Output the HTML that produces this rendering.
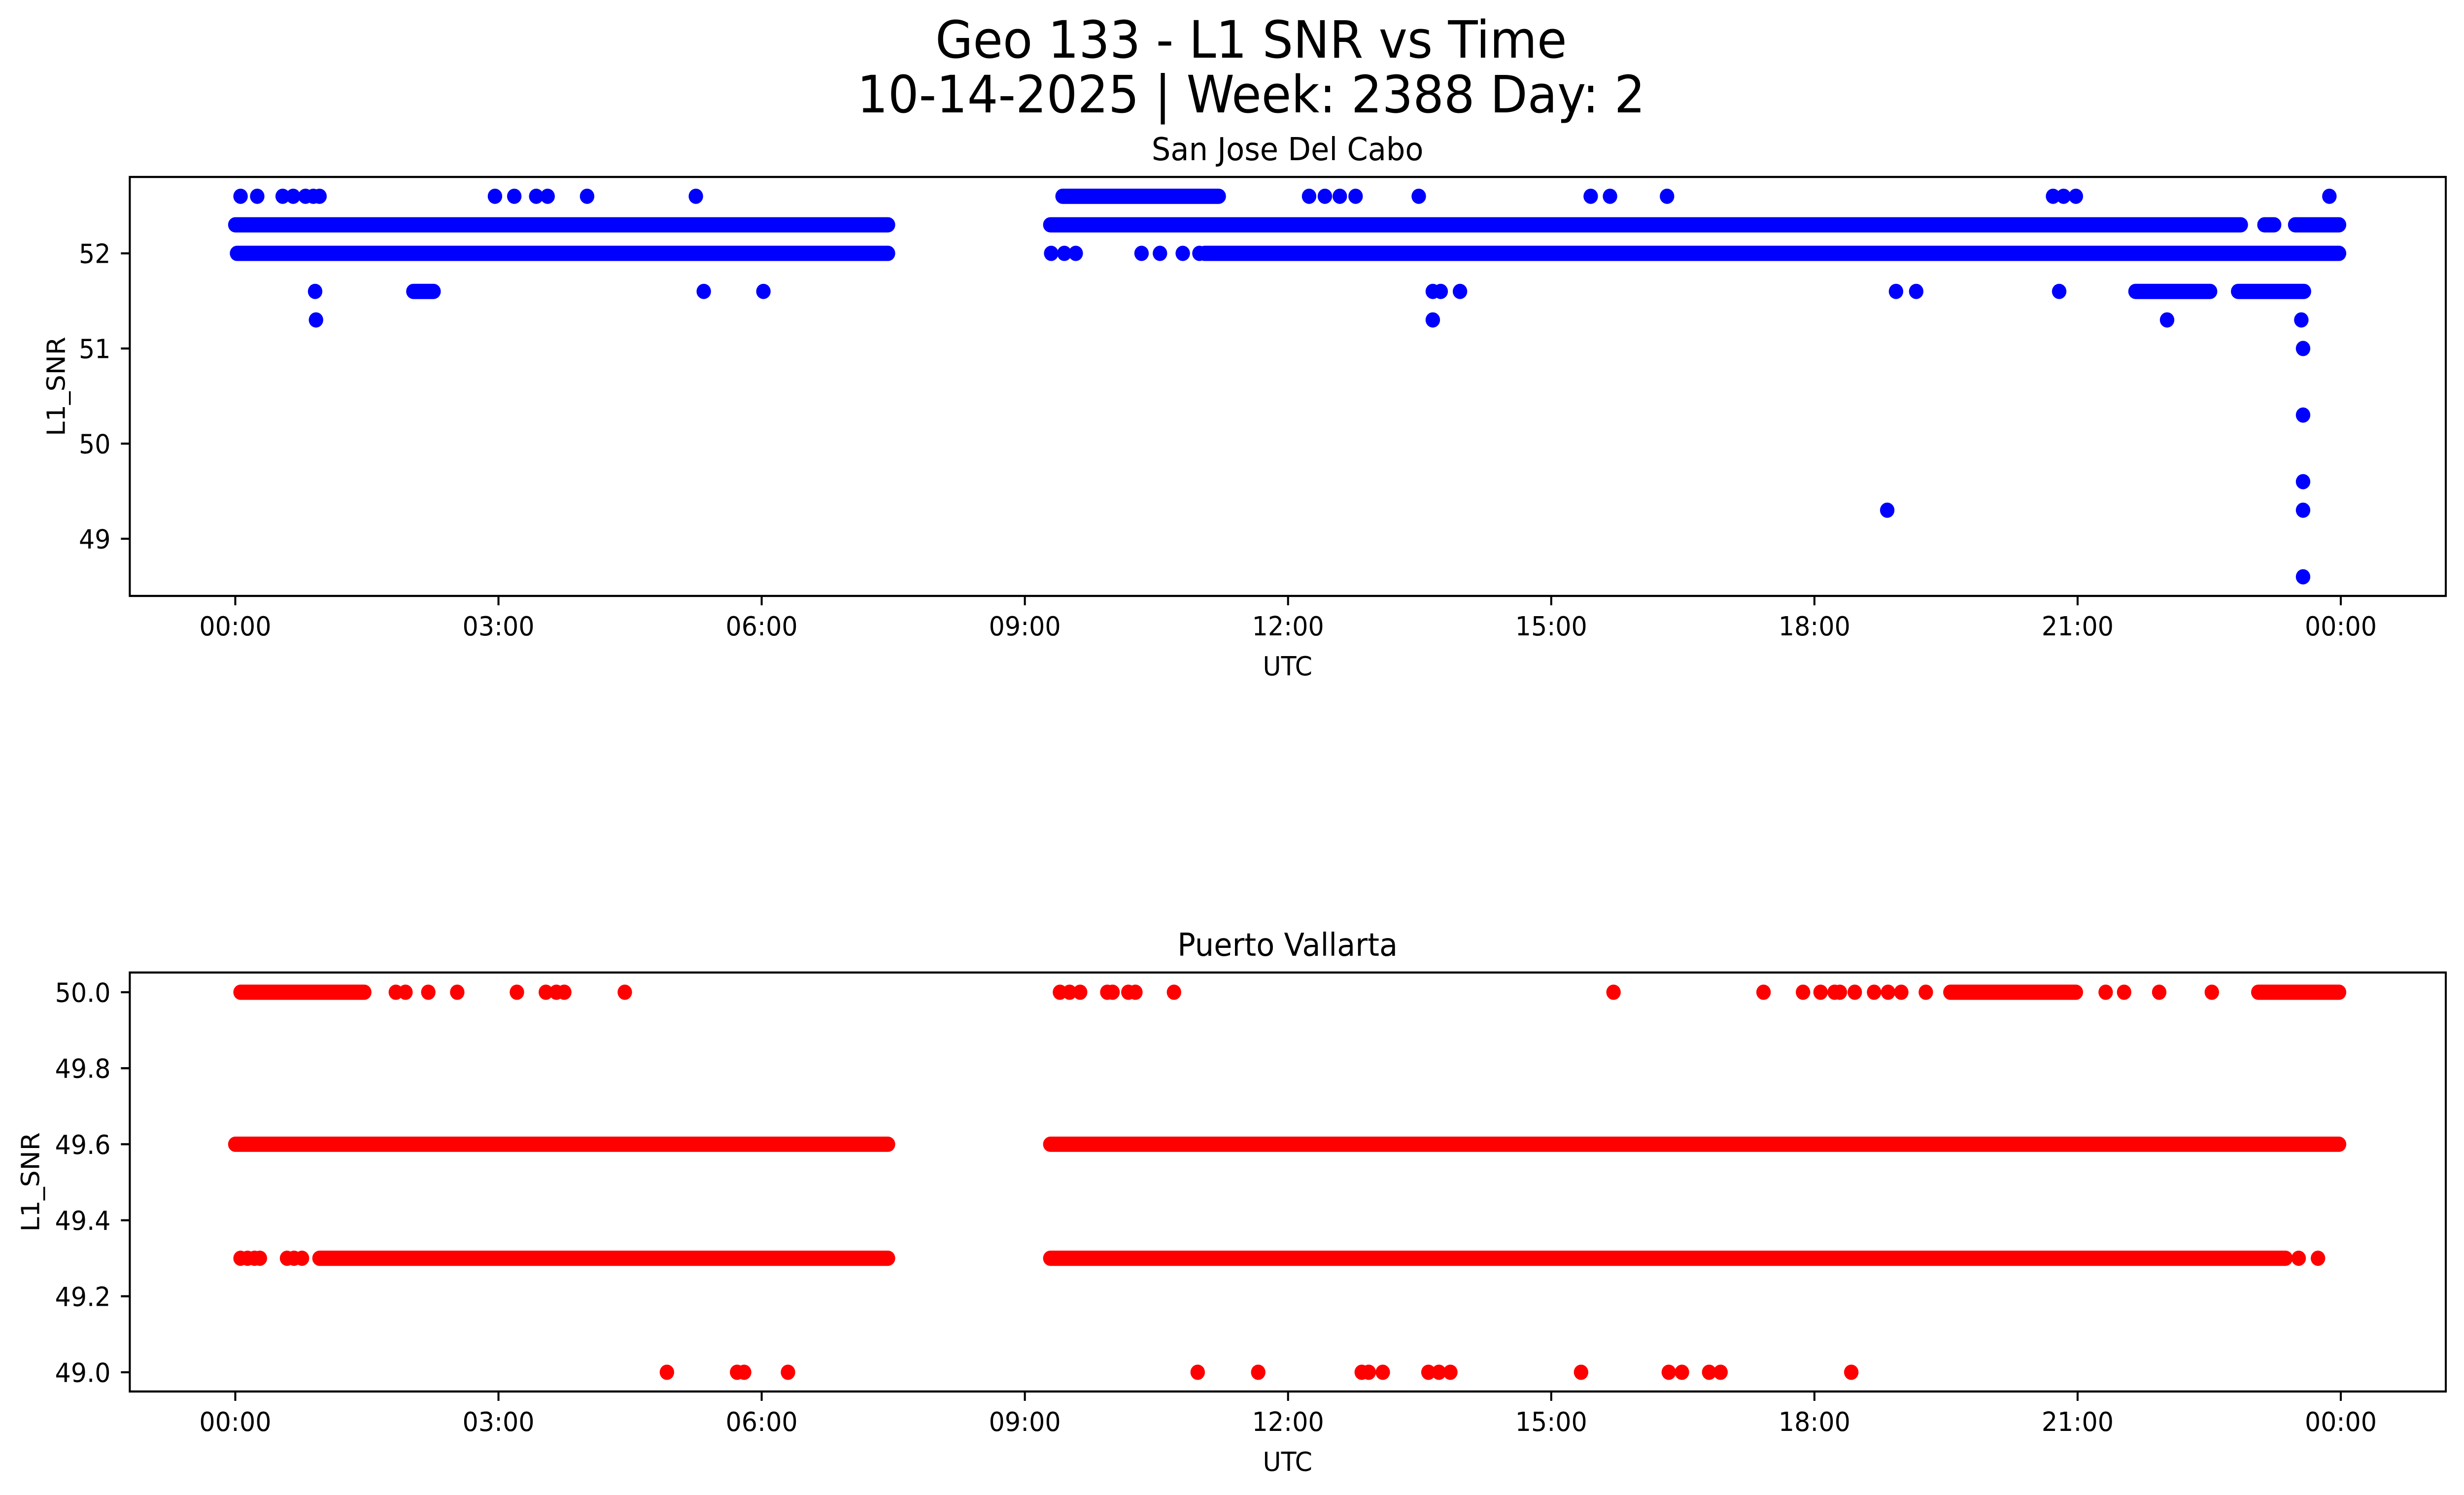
<!DOCTYPE html>
<html><head><meta charset="utf-8"><title>Geo 133 - L1 SNR vs Time</title>
<style>html,body{margin:0;padding:0;background:#fff;width:100%;height:100%;overflow:hidden}svg{display:block;position:absolute;left:0;top:0;width:100vw;height:100vh}text{font-family:"DejaVu Sans","Liberation Sans",sans-serif;fill:#000}</style>
</head><body>
<svg id="fig" xmlns="http://www.w3.org/2000/svg" viewBox="0 0 5278 3033" preserveAspectRatio="none">
<rect width="5278" height="3033" fill="#fff"/>
<text x="2680" y="117" font-size="104" text-anchor="middle">Geo 133 - L1 SNR vs Time</text>
<text x="2680" y="228" font-size="104" text-anchor="middle">10-14-2025 | Week: 2388 Day: 2</text>
<g id="top"></g>
<g id="bot"></g>
</svg>
<script>
// ---- Data (hours UTC, SNR values) ----
const xTickLabels = ["00:00","03:00","06:00","09:00","12:00","15:00","18:00","21:00","00:00"];
const xTickHours = [0,3,6,9,12,15,18,21,24];
const topYTicks = [49,50,51,52];
const botYTicks = [49.0,49.2,49.4,49.6,49.8,50.0];

// San Jose Del Cabo: dense runs [start,end,value] and single points
const topRunStart = [0.0, 9.29, 23.13, 23.48, 0.02, 11.05, 9.43, 2.03, 21.66, 22.83];
const topRunEnd   = [7.44, 22.86, 23.24, 23.98, 7.44, 23.98, 11.21, 2.26, 22.51, 23.58];
const topRunValue = [52.3, 52.3, 52.3, 52.3, 52.0, 52.0, 52.6, 51.6, 51.6, 51.6];
const topPtHour = [0.06,0.25,0.54,0.66,0.80,0.89,0.96,2.96,3.18,3.43,3.56,4.01,5.25,12.24,12.42,12.59,12.77,13.49,15.45,15.67,16.32,20.72,20.84,20.98,23.87,
  9.30,9.45,9.58,10.33,10.54,10.80,10.99,
  0.91,5.34,6.02,13.65,13.74,13.96,18.93,19.16,20.79,
  0.92,13.65,22.02,23.55,
  23.57,23.57,23.57,18.83,23.57,23.57];
const topPtValue = [52.6,52.6,52.6,52.6,52.6,52.6,52.6,52.6,52.6,52.6,52.6,52.6,52.6,52.6,52.6,52.6,52.6,52.6,52.6,52.6,52.6,52.6,52.6,52.6,52.6,
  52.0,52.0,52.0,52.0,52.0,52.0,52.0,
  51.6,51.6,51.6,51.6,51.6,51.6,51.6,51.6,51.6,
  51.3,51.3,51.3,51.3,
  51.0,50.3,49.6,49.3,49.3,48.6];

// Puerto Vallarta
const botRunStart = [0.0, 9.29, 0.96, 9.29, 0.06, 19.55, 23.06];
const botRunEnd   = [7.44, 23.98, 7.44, 23.37, 1.47, 20.98, 23.98];
const botRunValue = [49.6, 49.6, 49.3, 49.3, 50.0, 50.0, 50.0];
const botPtHour = [1.83,1.94,2.20,2.53,3.21,3.54,3.66,3.75,4.44,9.40,9.51,9.63,9.94,10.00,10.18,10.26,10.70,15.71,17.42,17.87,18.07,18.23,18.29,18.46,18.68,18.84,18.99,19.27,21.32,21.53,21.93,22.53,
  0.06,0.14,0.22,0.28,0.59,0.67,0.76,23.52,23.74,
  4.92,5.72,5.80,6.30,10.97,11.66,12.84,12.92,13.08,13.60,13.72,13.85,15.34,16.34,16.49,16.80,16.93,18.42];
const botPtValue = [50,50,50,50,50,50,50,50,50,50,50,50,50,50,50,50,50,50,50,50,50,50,50,50,50,50,50,50,50,50,50,50,
  49.3,49.3,49.3,49.3,49.3,49.3,49.3,49.3,49.3,
  49,49,49,49,49,49,49,49,49,49,49,49,49,49,49,49,49,49];

const NS = "http://www.w3.org/2000/svg";
function mk(tag, attrs, parent){const e=document.createElementNS(NS,tag);for(const k in attrs)e.setAttribute(k,attrs[k]);parent.appendChild(e);return e;}
const X0=278, X1=5239;
function xMap(h){return 504 + h*187.92;}

function panel(g, cfg){
  const yMap=cfg.yMap;
  const marks=mk('g',{},g);
  
  
  for(let i=0;i<cfg.rs.length;i++){
    const l=mk('line',{x1:xMap(cfg.rs[i]),x2:xMap(cfg.re[i]),y1:yMap(cfg.rv[i]),y2:yMap(cfg.rv[i]),stroke:cfg.color,'stroke-width':31,'stroke-linecap':'round'},marks);
    
    
  }
  for(let i=0;i<cfg.ph.length;i++){
    const c=mk('ellipse',{cx:xMap(cfg.ph[i]),cy:yMap(cfg.pv[i]),rx:15.5,ry:15.5,fill:cfg.color},marks);
    
    
  }
  const fr=mk('rect',{x:X0,y:cfg.top,width:X1-X0,height:cfg.bottom-cfg.top,fill:'none',stroke:'#000','stroke-width':4.3},g);
  
  
  for(let i=0;i<xTickHours.length;i++){
    const x=xMap(xTickHours[i]);
    const t=mk('line',{x1:x,x2:x,y1:cfg.bottom,y2:cfg.bottom+19,stroke:'#000','stroke-width':4.3},g);
    
    
    const lb=mk('text',{x:x,y:cfg.bottom+80,'font-size':53.5,'text-anchor':'middle'},g);
    lb.textContent=xTickLabels[i];
    
    
  }
  for(const v of cfg.yt){
    const y=yMap(v);
    const t=mk('line',{x1:X0-19,x2:X0,y1:y,y2:y,stroke:'#000','stroke-width':4.3},g);
    
    
    const lb=mk('text',{x:237,y:y+19.5,'font-size':53.5,'text-anchor':'end'},g);
    lb.textContent=cfg.fmt(v);
    
    
  }
  const ttl=mk('text',{x:2758,y:cfg.top-34,'font-size':64,'text-anchor':'middle'},g);
  ttl.textContent=cfg.title;
  
  
  const xl=mk('text',{x:2758,y:cfg.bottom+161,'font-size':53.5,'text-anchor':'middle'},g);
  xl.textContent='UTC';
  
  
  const cy=(cfg.top+cfg.bottom)/2;
  const yl=mk('text',{x:0,y:0,'font-size':53.5,'text-anchor':'middle',transform:`translate(${cfg.ylx},${cy}) rotate(-90)`},g);
  yl.textContent='L1_SNR';
  
  
}

panel(document.getElementById('top'),{top:359,bottom:1209,yMap:v=>514+(52-v)*193,yt:topYTicks,fmt:v=>String(v),
  rs:topRunStart,re:topRunEnd,rv:topRunValue,ph:topPtHour,pv:topPtValue,color:'#0000ff',title:'San Jose Del Cabo',ylx:139});
panel(document.getElementById('bot'),{top:1973,bottom:2823,yMap:v=>2013+(50-v)*771,yt:botYTicks,fmt:v=>v.toFixed(1),
  rs:botRunStart,re:botRunEnd,rv:botRunValue,ph:botPtHour,pv:botPtValue,color:'#ff0000',title:'Puerto Vallarta',ylx:84});
</script>
</body></html>
